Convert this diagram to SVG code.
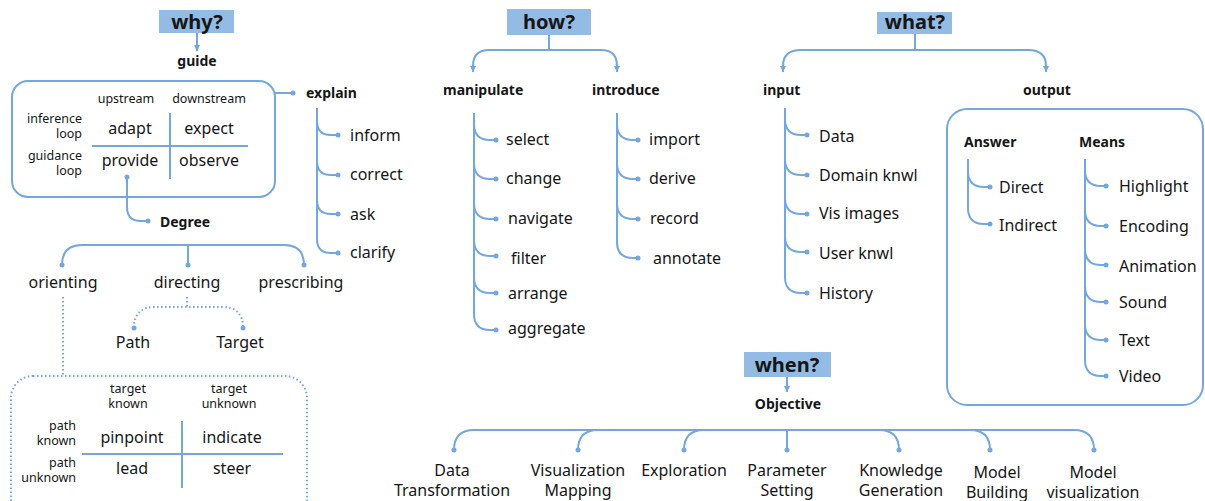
<svg xmlns="http://www.w3.org/2000/svg" width="1205" height="501" viewBox="0 0 1205 501">
<defs>
<style>
.ln{fill:none;stroke:#74a7de;stroke-width:2}
.dt{fill:none;stroke:#74a7de;stroke-width:2;stroke-dasharray:1.5 2.5}
.box{fill:none;stroke:#74a7de;stroke-width:2}
.tb{fill:#93bbe3}
.d{fill:#74a7de}
text{font-family:"Noto Sans","Open Sans",sans-serif;fill:#161616}
.ti{font-size:20px;font-weight:bold;text-anchor:middle}
.hd{font-size:14px;font-weight:bold}
.lf{font-size:16px}
.sm{font-size:12.5px}
.m{text-anchor:middle}
.e{text-anchor:end}
</style>
<marker id="ar" markerWidth="7" markerHeight="7" refX="6" refY="3.5" orient="auto" markerUnits="userSpaceOnUse">
<path d="M0,0.5 L6.5,3.5 L0,6.5 z" fill="#74a7de"/>
</marker>
</defs>

<g id="connectors">
<path class="ln" d="M197 33 V51" marker-end="url(#ar)"/>
<path class="ln" d="M275 93 H293"/>
<circle class="d" cx="293" cy="93" r="2.5"/>
<path class="ln" d="M317 108 V239 M317 121 Q317 135 331 135 H338 M317 161 Q317 175 331 175 H338 M317 200 Q317 214 331 214 H338 M317 239 Q317 253 331 253 H338"/>
<circle class="d" cx="338" cy="135" r="2.5"/><circle class="d" cx="338" cy="175" r="2.5"/><circle class="d" cx="338" cy="214" r="2.5"/><circle class="d" cx="338" cy="253" r="2.5"/>
<path class="ln" d="M127 177 V207 Q127 221 141 221 H148"/>
<circle class="d" cx="127" cy="177" r="2.5"/><circle class="d" cx="148" cy="221" r="2.5"/>
<path class="ln" d="M82 245 H284 M82 245 Q62 245 62 265 M284 245 Q304 245 304 265 M188 245 V265"/>
<circle class="d" cx="62" cy="265" r="2.5"/><circle class="d" cx="188" cy="265" r="2.5"/><circle class="d" cx="304" cy="265" r="2.5"/>
<path class="dt" d="M187 297 V307 M134 328 Q134 307 155 307 H222 Q243 307 243 328"/>
<circle class="d" cx="134" cy="328" r="2.5"/><circle class="d" cx="243" cy="328" r="2.5"/>
<path class="dt" d="M63 297 V376"/>
<path class="ln" d="M549 35 V50 M489 50 H601"/>
<path class="ln" d="M489 50 Q473 50 473 66 V72" marker-end="url(#ar)"/>
<path class="ln" d="M601 50 Q617 50 617 66 V72" marker-end="url(#ar)"/>
<path class="ln" d="M474 113 V314 M474 124 Q474 140 490 140 H496 M474 163 Q474 179 490 179 H496 M474 203 Q474 219 490 219 H496 M474 240 Q474 256 490 256 H496 M474 277 Q474 293 490 293 H496 M474 314 Q474 330 490 330 H496"/>
<circle class="d" cx="496" cy="140" r="2.5"/><circle class="d" cx="496" cy="179" r="2.5"/><circle class="d" cx="496" cy="219" r="2.5"/><circle class="d" cx="496" cy="256" r="2.5"/><circle class="d" cx="496" cy="293" r="2.5"/><circle class="d" cx="496" cy="330" r="2.5"/>
<path class="ln" d="M617 113 V242 M617 124 Q617 140 633 140 H638 M617 163 Q617 179 633 179 H638 M617 203 Q617 219 633 219 H638 M617 242 Q617 258 633 258 H638"/>
<circle class="d" cx="638" cy="140" r="2.5"/><circle class="d" cx="638" cy="179" r="2.5"/><circle class="d" cx="638" cy="219" r="2.5"/><circle class="d" cx="638" cy="258" r="2.5"/>
<path class="ln" d="M915 34 V50 M801 50 H1028"/>
<path class="ln" d="M801 50 Q783 50 783 66 V72" marker-end="url(#ar)"/>
<path class="ln" d="M1028 50 Q1046 50 1046 66 V72" marker-end="url(#ar)"/>
<path class="ln" d="M785 108 V277 M785 119 Q785 135 801 135 H807 M785 159 Q785 175 801 175 H807 M785 198 Q785 214 801 214 H807 M785 236 Q785 252 801 252 H807 M785 277 Q785 293 801 293 H807"/>
<circle class="d" cx="807" cy="135" r="2.5"/><circle class="d" cx="807" cy="175" r="2.5"/><circle class="d" cx="807" cy="214" r="2.5"/><circle class="d" cx="807" cy="252" r="2.5"/><circle class="d" cx="807" cy="293" r="2.5"/>
<path class="ln" d="M968 159 V208 M968 171 Q968 187 984 187 H990 M968 208 Q968 224 984 224 H990"/>
<circle class="d" cx="990" cy="187" r="2.5"/><circle class="d" cx="990" cy="224" r="2.5"/>
<path class="ln" d="M1085 159 V360 M1085 170 Q1085 186 1101 186 H1106 M1085 210 Q1085 226 1101 226 H1106 M1085 249 Q1085 265 1101 265 H1106 M1085 286 Q1085 302 1101 302 H1106 M1085 324 Q1085 340 1101 340 H1106 M1085 360 Q1085 376 1101 376 H1106"/>
<circle class="d" cx="1106" cy="186" r="2.5"/><circle class="d" cx="1106" cy="226" r="2.5"/><circle class="d" cx="1106" cy="265" r="2.5"/><circle class="d" cx="1106" cy="302" r="2.5"/><circle class="d" cx="1106" cy="340" r="2.5"/><circle class="d" cx="1106" cy="376" r="2.5"/>
<path class="ln" d="M787 377 V392" marker-end="url(#ar)"/>
<path class="ln" d="M474 430 H1074 M474 430 Q454 430 454 450 M598 430 Q578 430 578 450 M704 430 Q684 430 684 450 M787 430 V450 M879 430 Q899 430 899 450 M970 430 Q990 430 990 450 M1074 430 Q1094 430 1094 450"/>
<circle class="d" cx="454" cy="450" r="2.5"/><circle class="d" cx="578" cy="450" r="2.5"/><circle class="d" cx="684" cy="450" r="2.5"/><circle class="d" cx="787" cy="450" r="2.5"/><circle class="d" cx="899" cy="450" r="2.5"/><circle class="d" cx="990" cy="450" r="2.5"/><circle class="d" cx="1094" cy="450" r="2.5"/>
</g>

<g id="why">
<rect class="tb" x="159" y="10" width="75" height="23"/>
<text class="ti" x="197" y="29">why?</text>
</g>
<g id="guide"><text class="hd m" x="197" y="66">guide</text></g>
<g id="guide-table">
<rect class="box" x="12" y="81" width="263" height="116" rx="16"/>
<text class="sm m" x="126" y="103">upstream</text>
<text class="sm m" x="209" y="103">downstream</text>
<text class="sm e" x="82" y="123">inference</text>
<text class="sm e" x="82" y="138">loop</text>
<text class="sm e" x="82" y="160">guidance</text>
<text class="sm e" x="82" y="175">loop</text>
<text class="lf m" x="130" y="134">adapt</text>
<text class="lf m" x="209" y="134">expect</text>
<text class="lf m" x="130" y="166">provide</text>
<text class="lf m" x="209" y="166">observe</text>
<path class="ln" d="M92 146 H248 M170 113 V179"/>
</g>
<g id="explain">
<text class="hd" x="306" y="98">explain</text>
<text class="lf" x="350" y="141">inform</text>
<text class="lf" x="350" y="180">correct</text>
<text class="lf" x="350" y="220">ask</text>
<text class="lf" x="350" y="258">clarify</text>
</g>
<g id="degree">
<text class="hd" x="160" y="227">Degree</text>
<text class="lf m" x="63" y="288">orienting</text>
<text class="lf m" x="187" y="288">directing</text>
<text class="lf m" x="301" y="288">prescribing</text>
<text class="lf m" x="133" y="348">Path</text>
<text class="lf m" x="240" y="348">Target</text>
</g>
<g id="orienting-table">
<rect class="dt" x="11" y="376" width="296" height="160" rx="22"/>
<text class="sm m" x="128" y="393">target</text>
<text class="sm m" x="128" y="408">known</text>
<text class="sm m" x="229" y="393">target</text>
<text class="sm m" x="229" y="408">unknown</text>
<text class="sm e" x="76" y="430">path</text>
<text class="sm e" x="76" y="445">known</text>
<text class="sm e" x="76" y="467">path</text>
<text class="sm e" x="76" y="482">unknown</text>
<text class="lf m" x="132" y="443">pinpoint</text>
<text class="lf m" x="232" y="443">indicate</text>
<text class="lf m" x="132" y="474">lead</text>
<text class="lf m" x="232" y="474">steer</text>
<path class="ln" d="M82 454 H283 M182 421 V488"/>
</g>

<g id="how">
<rect class="tb" x="507" y="9" width="84" height="26"/>
<text class="ti" x="549" y="29">how?</text>
</g>
<g id="manipulate">
<text class="hd" x="443" y="95">manipulate</text>
<text class="lf" x="506" y="145">select</text>
<text class="lf" x="506" y="184">change</text>
<text class="lf" x="508" y="224">navigate</text>
<text class="lf" x="511" y="264">filter</text>
<text class="lf" x="508" y="299">arrange</text>
<text class="lf" x="508" y="334">aggregate</text>
</g>
<g id="introduce">
<text class="hd" x="592" y="95">introduce</text>
<text class="lf" x="649" y="145">import</text>
<text class="lf" x="649" y="184">derive</text>
<text class="lf" x="650" y="224">record</text>
<text class="lf" x="653" y="264">annotate</text>
</g>

<g id="what">
<rect class="tb" x="877" y="12" width="75" height="22"/>
<text class="ti" x="915" y="29">what?</text>
</g>
<g id="input">
<text class="hd" x="763" y="95">input</text>
<text class="lf" x="819" y="142">Data</text>
<text class="lf" x="819" y="181">Domain knwl</text>
<text class="lf" x="819" y="219">Vis images</text>
<text class="lf" x="819" y="259">User knwl</text>
<text class="lf" x="819" y="299">History</text>
</g>
<g id="output">
<text class="hd" x="1023" y="95">output</text>
<rect class="box" x="947" y="109" width="256" height="296" rx="20"/>
<text class="hd" x="964" y="147">Answer</text>
<text class="hd" x="1079" y="147">Means</text>
<text class="lf" x="999" y="193">Direct</text>
<text class="lf" x="999" y="231">Indirect</text>
<text class="lf" x="1119" y="192">Highlight</text>
<text class="lf" x="1119" y="232">Encoding</text>
<text class="lf" x="1119" y="272">Animation</text>
<text class="lf" x="1119" y="308">Sound</text>
<text class="lf" x="1119" y="346">Text</text>
<text class="lf" x="1119" y="382">Video</text>
</g>

<g id="when">
<rect class="tb" x="744" y="352" width="87" height="25"/>
<text class="ti" x="787" y="372">when?</text>
</g>
<g id="objective">
<text class="hd m" x="788" y="409">Objective</text>
<text class="lf m" x="452" y="476">Data</text>
<text class="lf m" x="452" y="496">Transformation</text>
<text class="lf m" x="578" y="476">Visualization</text>
<text class="lf m" x="578" y="496">Mapping</text>
<text class="lf m" x="684" y="476">Exploration</text>
<text class="lf m" x="787" y="476">Parameter</text>
<text class="lf m" x="787" y="496">Setting</text>
<text class="lf m" x="901" y="476">Knowledge</text>
<text class="lf m" x="901" y="496">Generation</text>
<text class="lf m" x="997" y="478">Model</text>
<text class="lf m" x="997" y="498">Building</text>
<text class="lf m" x="1093" y="478">Model</text>
<text class="lf m" x="1093" y="498">visualization</text>
</g>
</svg>
